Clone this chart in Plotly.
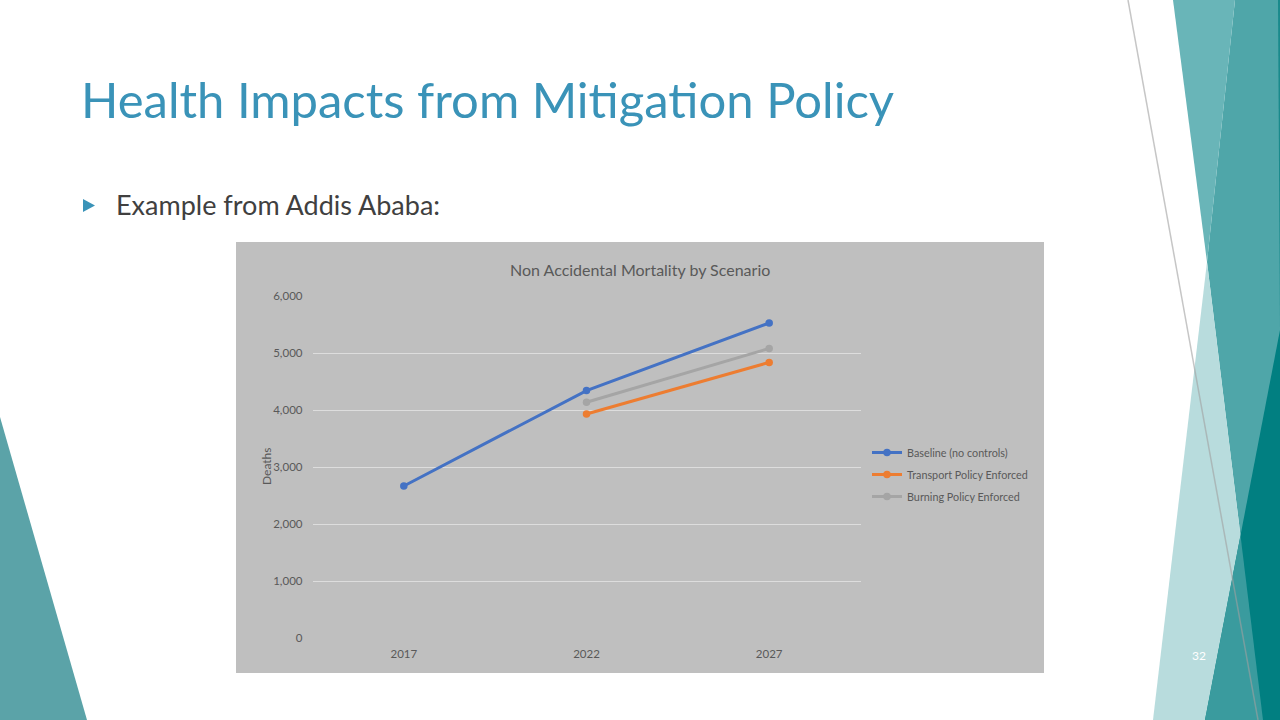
import plotly.graph_objects as go

W, H = 1280, 720

# ---- data ----
years = ["2017", "2022", "2027"]
baseline = [2667, 4340, 5526]
transport = [None, 3930, 4835]
burning = [None, 4135, 5080]
series_names = ["Baseline (no controls)", "Transport Policy Enforced", "Burning Policy Enforced"]
series_colors = ["#4472C4", "#ED7D31", "#A5A5A5"]
y_ticks = [0, 1000, 2000, 3000, 4000, 5000, 6000]
y_ticktext = ["0", "1,000", "2,000", "3,000", "4,000", "5,000", "6,000"]

slide_title = "Health Impacts from Mitigation Policy"
bullet_text = "Example from Addis Ababa:"
chart_title = "Non Accidental Mortality by Scenario"
y_title = "Deaths"
page_no = "32"


def px(x):
    return x / W


def py(y):
    return 1 - y / H


def path(points):
    s = "M " + " L ".join(f"{px(x):.5f},{py(y):.5f}" for x, y in points) + " Z"
    return s


fig = go.Figure()
for name, vals, col, grp in zip(series_names, [baseline, transport, burning], series_colors, ["a", "b", "c"]):
    fig.add_trace(go.Scatter(
        x=years, y=vals, name=name, mode="lines+markers",
        line=dict(color=col, width=3),
        marker=dict(color=col, size=7.5),
        legendgroup=grp, connectgaps=False,
    ))

shapes = []
# chart background box
shapes.append(dict(type="rect", xref="paper", yref="paper", x0=px(236), x1=px(1044), y0=py(673), y1=py(242),
                   fillcolor="#BFBFBF", line=dict(width=0), layer="below"))
# left decoration
shapes.append(dict(type="path", xref="paper", yref="paper", path=path([(0, 417), (87, 720), (0, 720)]),
                   fillcolor="#5BA3A8", line=dict(width=0), layer="above"))
# right decorations
shapes.append(dict(type="path", xref="paper", yref="paper",
                   path=path([(1235, 0), (1280, 0), (1280, 720), (1263, 720), (1207, 262)]),
                   fillcolor="#4FA6A9", line=dict(width=0), layer="above"))
shapes.append(dict(type="path", xref="paper", yref="paper",
                   path=path([(1173, 0), (1235, 0), (1207, 262)]),
                   fillcolor="#69B5B8", line=dict(width=0), layer="above"))
shapes.append(dict(type="path", xref="paper", yref="paper",
                   path=path([(1207, 262), (1153, 720), (1263, 720)]),
                   fillcolor="#B8DCDD", line=dict(width=0), layer="above"))
shapes.append(dict(type="path", xref="paper", yref="paper",
                   path=path([(1280, 330), (1205, 720), (1280, 720)]),
                   fillcolor="#017F81", line=dict(width=0), layer="above"))
shapes.append(dict(type="path", xref="paper", yref="paper",
                   path=path([(1240.5, 535.6), (1205, 720), (1263, 720)]),
                   fillcolor="#3A9B9E", line=dict(width=0), layer="above"))
shapes.append(dict(type="path", xref="paper", yref="paper",
                   path=path([(1278, 0), (1280, 0), (1280, 330)]),
                   fillcolor="#1A8A8C", line=dict(width=0), layer="above"))
shapes.append(dict(type="line", xref="paper", yref="paper", x0=px(1128), y0=py(0), x1=px(1258), y1=py(720),
                   line=dict(color="rgba(160,160,160,0.6)", width=1.5), layer="above"))
# bullet
shapes.append(dict(type="path", xref="paper", yref="paper", path=path([(83, 199), (83, 212), (95, 205.5)]),
                   fillcolor="#3A93B8", line=dict(width=0), layer="above"))

annotations = [
    dict(text=slide_title, x=px(79), y=py(98.5), xref="paper", yref="paper", xanchor="left", yanchor="middle",
         showarrow=False, font=dict(family="Lato", size=49, color="#3A93B8")),
    dict(text=bullet_text, x=px(114), y=py(204), xref="paper", yref="paper", xanchor="left", yanchor="middle",
         showarrow=False, font=dict(family="Lato", size=27, color="#404040")),
    dict(text=chart_title, x=px(640), y=py(269), xref="paper", yref="paper", xanchor="center", yanchor="middle",
         showarrow=False, font=dict(family="Lato", size=16, color="#595959")),
    dict(text=y_title, x=px(266), y=py(467), xref="paper", yref="paper", xanchor="center", yanchor="middle",
         textangle=-90, showarrow=False, font=dict(family="Lato", size=12, color="#595959")),
    dict(text=page_no, x=px(1199), y=py(655), xref="paper", yref="paper", xanchor="center", yanchor="middle",
         showarrow=False, font=dict(family="Lato", size=12, color="#FFFFFF")),
]

fig.update_layout(
    width=W, height=H, margin=dict(l=0, r=0, t=0, b=0, pad=0, autoexpand=False),
    paper_bgcolor="white", plot_bgcolor="rgba(0,0,0,0)",
    shapes=shapes, annotations=annotations,
    xaxis=dict(type="category", range=[-0.5, 2.5], domain=[px(312.5), px(860.5)], automargin=False,
               showgrid=False, zeroline=False, showline=False, ticks="",
               ticklabelstandoff=7,
               tickfont=dict(family="Lato", size=11.5, color="#595959")),
    yaxis=dict(range=[0, 6000], domain=[py(638), py(296)], tickvals=y_ticks, ticktext=y_ticktext,
               automargin=False,
               showgrid=True, gridcolor="#DDDDDD", gridwidth=1, zeroline=False, showline=False, ticks="",
               ticklabelstandoff=9,
               tickfont=dict(family="Lato", size=11.5, color="#595959")),
    legend=dict(x=px(867), y=py(438), xanchor="left", yanchor="top", bgcolor="rgba(0,0,0,0)",
                font=dict(family="Lato", size=10.8, color="#595959"), itemwidth=30, tracegroupgap=3),
    showlegend=True,
)

js = (
    "document.documentElement.style.margin='0';"
    "document.body.style.margin='0';"
    "document.body.style.overflow='hidden';"
)
fig.write_html("out.html", post_script=js)
